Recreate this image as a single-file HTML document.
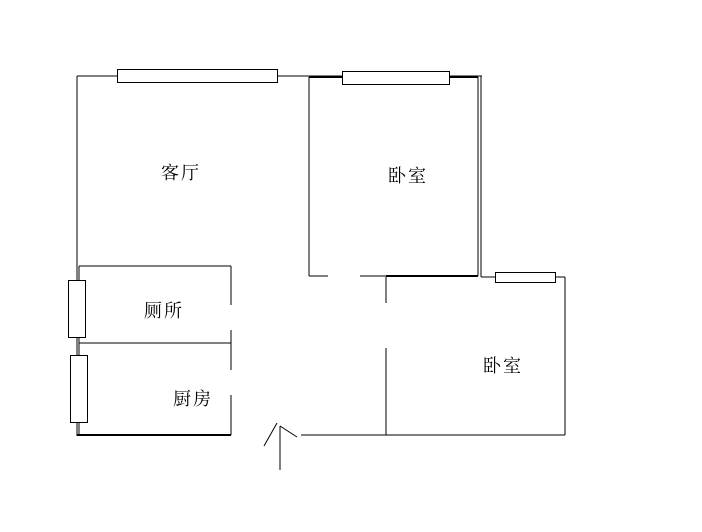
<!DOCTYPE html>
<html><head><meta charset="utf-8"><style>
html,body{margin:0;padding:0;background:#fff;width:702px;height:532px;overflow:hidden}
svg text{font-family:"Liberation Serif","Noto Serif CJK SC",serif;font-size:18px;fill:#000;letter-spacing:2px}
</style></head><body>
<svg width="702" height="532" viewBox="0 0 702 532" xmlns="http://www.w3.org/2000/svg">
<g stroke="#000" stroke-width="1" fill="none" shape-rendering="crispEdges">
<!-- outer top & left -->
<line x1="77" y1="76" x2="482" y2="76"/>
<line x1="77" y1="76" x2="77" y2="436"/>
<!-- bedroom 1 -->
<line x1="309" y1="77" x2="478" y2="77" stroke-width="2"/>
<line x1="309" y1="77" x2="309" y2="276"/>
<line x1="478" y1="77" x2="478" y2="276"/>
<line x1="481" y1="76" x2="481" y2="277"/>
<line x1="309" y1="276" x2="328" y2="276"/>
<line x1="360" y1="276" x2="386" y2="276"/>
<line x1="386" y1="276" x2="478" y2="276" stroke-width="2"/>
<line x1="481" y1="277" x2="565" y2="277"/>
<!-- bedroom 2 -->
<line x1="386" y1="277" x2="386" y2="303"/>
<line x1="386" y1="348" x2="386" y2="435"/>
<line x1="565" y1="277" x2="565" y2="435"/>
<line x1="301" y1="435" x2="565" y2="435"/>
<!-- toilet/kitchen -->
<line x1="79" y1="266" x2="231" y2="266"/>
<line x1="79" y1="266" x2="79" y2="435"/>
<line x1="79" y1="343" x2="231" y2="343"/>
<line x1="231" y1="266" x2="231" y2="305"/>
<line x1="231" y1="330" x2="231" y2="370"/>
<line x1="231" y1="395" x2="231" y2="435"/>
<line x1="77" y1="435" x2="231" y2="435" stroke-width="2"/>
<!-- windows -->
<rect x="117.5" y="69.5" width="160" height="13" fill="#fff"/>
<rect x="342.5" y="71.5" width="107" height="13" fill="#fff"/>
<rect x="495.5" y="272.5" width="60" height="10" fill="#fff"/>
<rect x="68.5" y="280.5" width="17" height="57" fill="#fff"/>
<rect x="70.5" y="355.5" width="17" height="67" fill="#fff"/>
<!-- entry -->
<line x1="280" y1="426" x2="280" y2="470"/>
</g>
<g stroke="#000" stroke-width="1" fill="none">
<line x1="280" y1="426" x2="297" y2="437"/>
<line x1="277" y1="423" x2="264" y2="446"/>
</g>
<text x="161" y="179">客厅</text>
<text x="388" y="182">卧室</text>
<text x="144" y="317">厕所</text>
<text x="173" y="405">厨房</text>
<text x="483" y="372">卧室</text>
</svg>
</body></html>
